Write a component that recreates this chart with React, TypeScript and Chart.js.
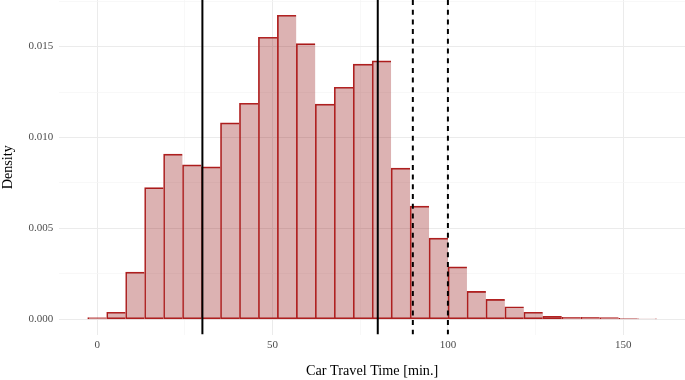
import React, { useEffect, useRef } from "react";
import { Chart, registerables } from "chart.js";

Chart.register(...registerables);

// Histogram bin centres (minutes) and densities
const binCenters = [
  0, 5.41, 10.81, 16.22, 21.63, 27.03, 32.44, 37.85, 43.26, 48.66,
  54.07, 59.48, 64.88, 70.29, 75.7, 81.1, 86.51, 91.92, 97.32, 102.73,
  108.14, 113.54, 118.95, 124.36, 129.77, 135.17, 140.58, 145.99, 151.39, 156.8,
];
const densities = [
  0.0001, 0.00039, 0.00259, 0.00724, 0.00908, 0.00849, 0.00838, 0.0108, 0.01188, 0.01551,
  0.01672, 0.01516, 0.01183, 0.01276, 0.01403, 0.01421, 0.00831, 0.00622, 0.00446, 0.00288,
  0.00154, 0.0011, 0.00069, 0.00039, 0.000165, 0.00011, 0.00011, 0.00009, 0.00005, 0.00002,
];
const solidLines = [30, 80];
const dashedLines = [90, 100];
const xGridValues = [0, 25, 50, 75, 100, 125, 150];
const yGridValues = [0, 0.0025, 0.005, 0.0075, 0.01, 0.0125, 0.015, 0.0175];
const xTitle = "Car Travel Time [min.]";
const yTitle = "Density";

const FONT = "'Liberation Serif', 'DejaVu Serif', serif";

const isMultiple = (v: number, step: number) =>
  Math.abs(v / step - Math.round(v / step)) < 1e-6;

const vLinesPlugin = {
  id: "vlines",
  afterDatasetsDraw(chart: any) {
    const { ctx, chartArea, scales } = chart;
    const x = scales.x;
    ctx.save();
    ctx.beginPath();
    ctx.rect(chartArea.left, chartArea.top, chartArea.right - chartArea.left, chartArea.bottom - chartArea.top);
    ctx.clip();
    ctx.strokeStyle = "#000000";
    ctx.lineWidth = 2;
    const draw = (vals: number[], dash: number[]) => {
      ctx.setLineDash(dash);
      vals.forEach((v) => {
        const px = x.getPixelForValue(v);
        ctx.beginPath();
        ctx.moveTo(px, chartArea.top);
        ctx.lineTo(px, chartArea.bottom);
        ctx.stroke();
      });
    };
    draw(solidLines, []);
    draw(dashedLines, [5, 4.7]);
    ctx.restore();
  },
};

export default function App() {
  const ref = useRef<HTMLCanvasElement>(null);
  useEffect(() => {
    document.body.style.margin = "0";
    const last = binCenters.length - 1;
    const chart = new Chart(ref.current!, {
      type: "bar",
      data: {
        datasets: [
          {
            data: binCenters.map((c, i) => ({ x: c, y: densities[i] })),
            backgroundColor: "rgba(139,0,0,0.3)",
            borderColor: "#b22222",
            borderSkipped: false,
            borderWidth: (c: any) => ({ top: 1, left: 1, bottom: 1, right: c.dataIndex === last ? 1 : 0 }),
            barPercentage: 1,
            categoryPercentage: 1,
          } as any,
        ],
      },
      options: {
        responsive: false,
        animation: false,
        layout: { padding: 0 },
        plugins: { legend: { display: false }, tooltip: { enabled: false } },
        scales: {
          x: {
            type: "linear",
            min: -10.8,
            max: 167.6,
            offset: false,
            border: { display: false },
            grid: {
              offset: false,
              drawTicks: false,
              color: (c: any) => (c.tick && isMultiple(c.tick.value, 50) ? "#ebebeb" : "#f5f5f5"),
              lineWidth: (c: any) => (c.tick && isMultiple(c.tick.value, 50) ? 1 : 0.7),
            },
            afterBuildTicks: (s: any) => {
              s.ticks = xGridValues.map((v) => ({ value: v }));
            },
            afterFit: (s: any) => {
              s.height = 45.5;
              s.paddingLeft = 0;
              s.paddingRight = 0;
            },
            ticks: {
              autoSkip: false,
              maxRotation: 0,
              padding: 4,
              color: "#4d4d4d",
              font: { family: FONT, size: 11 },
              callback: (v: any) => (isMultiple(Number(v), 50) ? String(v) : ""),
            },
            title: {
              display: true,
              text: xTitle,
              color: "#000000",
              padding: { top: 0, bottom: 0 },
              font: { family: FONT, size: 14.2 },
            },
          },
          y: {
            type: "linear",
            min: -0.000836,
            max: 0.01756,
            border: { display: false },
            grid: {
              drawTicks: false,
              color: (c: any) => (c.tick && isMultiple(c.tick.value, 0.005) ? "#ebebeb" : "#f5f5f5"),
              lineWidth: (c: any) => (c.tick && isMultiple(c.tick.value, 0.005) ? 1 : 0.7),
            },
            afterBuildTicks: (s: any) => {
              s.ticks = yGridValues.map((v) => ({ value: v }));
            },
            afterFit: (s: any) => {
              s.width = 59.3;
              s.paddingTop = 0;
              s.paddingBottom = 0;
            },
            ticks: {
              autoSkip: false,
              padding: 6,
              color: "#4d4d4d",
              font: { family: FONT, size: 11 },
              callback: (v: any) => (isMultiple(Number(v), 0.005) ? Number(v).toFixed(3) : ""),
            },
            title: {
              display: true,
              text: yTitle,
              color: "#000000",
              padding: { top: 0, bottom: 0 },
              font: { family: FONT, size: 14.2 },
            },
          },
        },
      } as any,
      plugins: [vLinesPlugin],
    });
    return () => chart.destroy();
  }, []);
  return (
    <div style={{ position: "absolute", left: 0, top: 0, width: 685, height: 380, background: "#fff" }}>
      <canvas ref={ref} width={685} height={380} style={{ display: "block" }} />
    </div>
  );
}
